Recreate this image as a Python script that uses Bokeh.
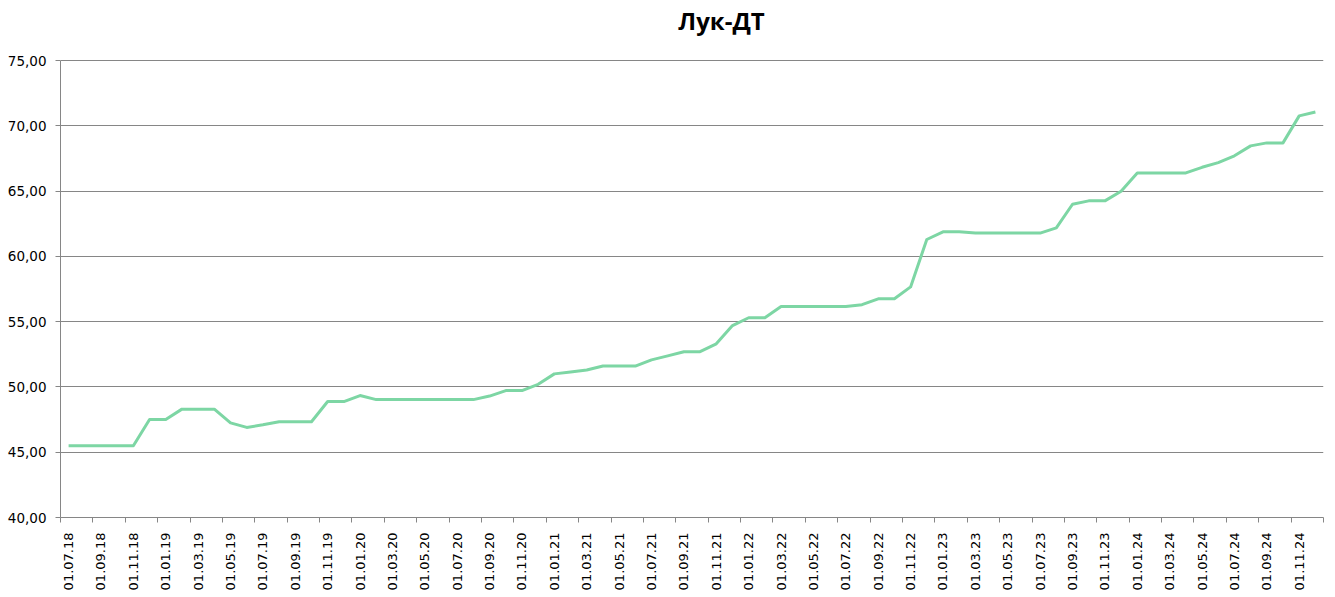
import math
from bokeh.plotting import figure
from bokeh.models import FixedTicker, Range1d, Label
from bokeh.embed import file_html
from bokeh.resources import INLINE

# Monthly dates 01.07.18 .. 01.12.24
months = []
for y in range(2018, 2025):
    for m in range(1, 13):
        if (y == 2018 and m < 7):
            continue
        months.append(f"01.{m:02d}.{y % 100:02d}")

values = [
    45.5, 45.5, 45.5, 45.5, 45.5, 47.5,            # 07.18 - 12.18
    47.5, 48.3, 48.3, 48.3, 47.25, 46.9,           # 01.19 - 06.19
    47.1, 47.33, 47.33, 47.33, 48.88, 48.88,       # 07.19 - 12.19
    49.34, 49.03, 49.03, 49.03, 49.03, 49.03,      # 01.20 - 06.20
    49.03, 49.03, 49.3, 49.72, 49.72, 50.2,        # 07.20 - 12.20
    51.0, 51.15, 51.3, 51.6, 51.6, 51.6,           # 01.21 - 06.21
    52.07, 52.38, 52.7, 52.7, 53.3, 54.7,          # 07.21 - 12.21
    55.3, 55.3, 56.16, 56.16, 56.16, 56.16,        # 01.22 - 06.22
    56.16, 56.3, 56.75, 56.75, 57.66, 61.29,       # 07.22 - 12.22
    61.88, 61.88, 61.78, 61.78, 61.78, 61.78,      # 01.23 - 06.23
    61.78, 62.18, 63.99, 64.25, 64.25, 64.99,      # 07.23 - 12.23
    66.39, 66.39, 66.39, 66.39, 66.82, 67.18,      # 01.24 - 06.24
    67.7, 68.46, 68.69, 68.69, 70.76, 71.06,       # 07.24 - 12.24
]

y_ticks = [40, 45, 50, 55, 60, 65, 70, 75]
title_text = "Лук-ДТ"

n = len(values)
xs = list(range(n))

# frame extends to the top of the canvas so the title can sit inside it
plot_px = 457
top_px = 60
y_top = 75 + top_px * 35 / plot_px

p = figure(width=1327, height=589, output_backend="svg", toolbar_location=None,
           frame_width=1263, frame_height=plot_px + top_px,
           x_range=Range1d(-0.5, n - 0.5), y_range=Range1d(40, y_top),
           min_border_left=60, min_border_right=4, min_border_top=0, min_border_bottom=72)

p.outline_line_color = None
p.background_fill_color = "white"
p.border_fill_color = "white"

p.line(xs, values, line_color="#7dd6a4", line_width=3, line_join="round")

title = Label(x=661, y=497, x_units="screen", y_units="screen", text=title_text,
              text_font="Open Sans", text_font_size="24px", text_font_style="bold",
              text_color="#000000", text_align="center", text_baseline="alphabetic")
p.add_layout(title)

# x axis
major = list(range(0, n, 2))
p.xaxis.ticker = FixedTicker(ticks=major, minor_ticks=[t - 0.5 for t in major] + [n - 0.5])
p.xaxis.major_label_overrides = {t: months[t] for t in major}
p.xaxis.major_label_orientation = math.pi / 2
p.xaxis.major_tick_out = 0
p.xaxis.major_tick_in = 0
p.xaxis.minor_tick_out = 5
p.xaxis.minor_tick_in = 0
p.xaxis.minor_tick_line_color = "#868686"
p.xaxis.axis_line_color = "#868686"
p.xaxis.major_label_standoff = 10
p.xaxis.major_label_text_font = "DejaVu Sans"
p.xaxis.major_label_text_font_size = "13px"
p.xaxis.major_label_text_color = "#000000"

# y axis
p.yaxis.ticker = FixedTicker(ticks=y_ticks)
p.yaxis.bounds = (40, 75)
p.yaxis.major_label_overrides = {t: f"{t},00" for t in y_ticks}
p.yaxis.major_tick_out = 5
p.yaxis.major_tick_in = 0
p.yaxis.minor_tick_out = 0
p.yaxis.minor_tick_in = 0
p.yaxis.major_tick_line_color = "#868686"
p.yaxis.axis_line_color = "#868686"
p.yaxis.major_label_standoff = 9
p.yaxis.major_label_text_font = "DejaVu Sans"
p.yaxis.major_label_text_font_size = "13.5px"
p.yaxis.major_label_text_color = "#000000"

p.xgrid.grid_line_color = None
p.ygrid.grid_line_color = "#868686"
p.ygrid.grid_line_width = 1

open("out.html", "w").write(file_html(p, INLINE))
